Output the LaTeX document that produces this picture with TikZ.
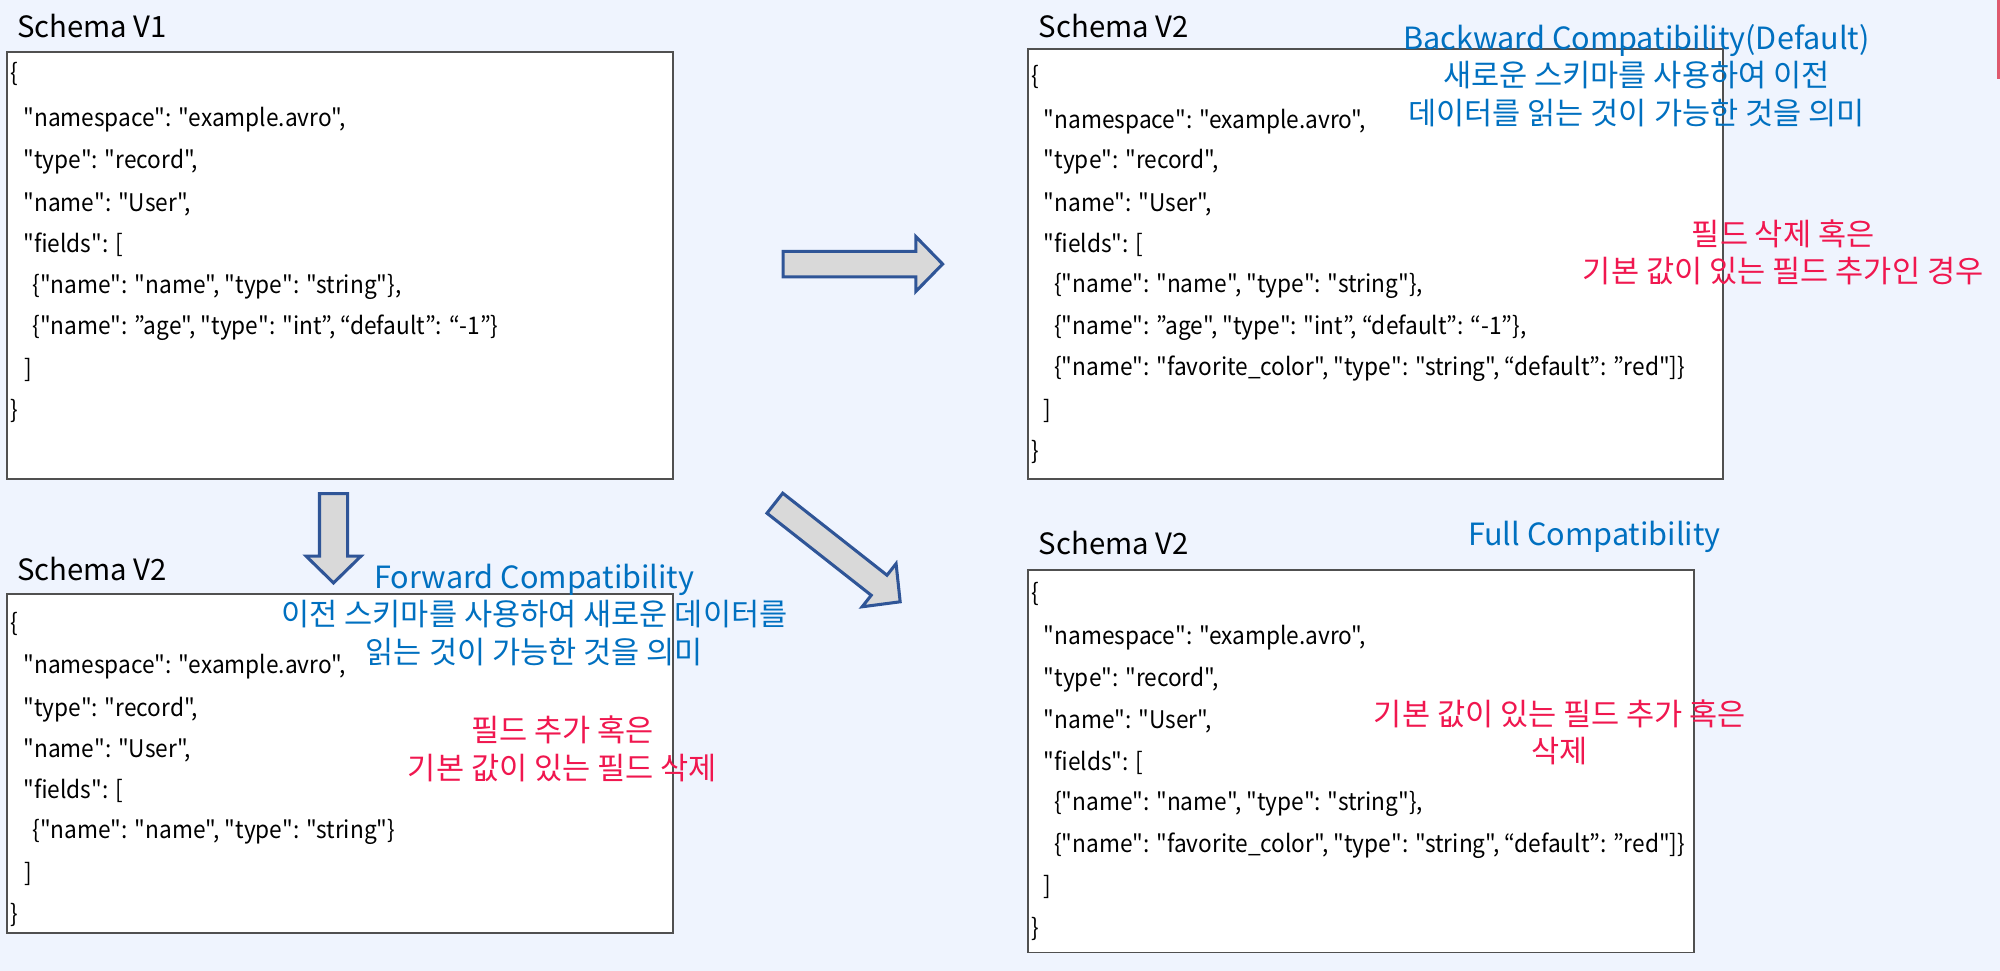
\documentclass[tikz,border=0pt]{standalone}
\usepackage{fontspec}
\setmainfont{Noto Sans CJK KR}[Ligatures=TeXOff]
\newfontfamily\codefont{Noto Sans CJK KR}[Ligatures=TeXOff,FakeStretch=0.935]
\definecolor{bgc}{HTML}{EFF4FE}
\definecolor{boxline}{HTML}{505050}
\definecolor{bluetxt}{HTML}{0070C0}
\definecolor{redtxt}{HTML}{F0174F}
\definecolor{arrline}{HTML}{2F5597}
\definecolor{arrfill}{HTML}{D9D9D9}
\definecolor{edgered}{HTML}{E05A6E}
\begin{document}
\begin{tikzpicture}[x=0.5pt,y=-0.5pt,
  schemabox/.style={draw=boxline,line width=0.75pt,fill=white,inner sep=0pt,anchor=north west},
  code/.style={anchor=west,inner sep=0pt,font=\codefont\fontsize{9.5}{11}\selectfont},
  ttl/.style={anchor=west,inner sep=0pt,font=\fontsize{11.5}{13}\selectfont},
  bluenote/.style={align=center,inner sep=0pt,text=bluetxt,font=\fontsize{12}{14.7}\selectfont},
  rednote/.style={align=center,inner sep=0pt,text=redtxt,font=\fontsize{12}{14.7}\selectfont},
  blockarrow/.style={draw=arrline,line width=1.2pt,fill=arrfill,line join=miter}]
\useasboundingbox (0,0) rectangle (1568,761);
\fill[bgc] (0,0) rectangle (1568,761);
\draw[edgered,line width=1pt] (1567,0) -- (1567,62);

% boxes
\node[schemabox,minimum width=261pt,minimum height=167.5pt] (v1) at (5,40) {};
\node[schemabox,minimum width=261pt,minimum height=133pt] (fw) at (5,465) {};
\node[schemabox,minimum width=272.5pt,minimum height=168.5pt] (bw) at (805,38) {};
\node[schemabox,minimum width=261pt,minimum height=150pt] (fu) at (805,446) {};

% titles
\node[ttl] (t1) at (13,20) {Schema V1};
\node[ttl] (t2) at (13,446) {Schema V2};
\node[ttl] (t3) at (814,20) {Schema V2};
\node[ttl] (t4) at (814,426) {Schema V2};

% V1 code
\node[code] (a1) at (8,58) {\{};
\node[code] (a2) at (18,94) {"namespace": "example.avro",};
\node[code] (a3) at (18,127) {"type": "record",};
\node[code] (a4) at (18,160) {"name": "User",};
\node[code] (a5) at (18,192) {"fields": [};
\node[code] (a6) at (25,225) {\{"name": "name", "type": "string"\},};
\node[code] (a7) at (25,257) {\{"name": ”age", "type": "int”, “default”: “-1”\}};
\node[code] (a8) at (19,290) {]};
\node[code] (a9) at (8,322) {\}};

% forward code
\node[code] (b1) at (8,489) {\{};
\node[code] (b2) at (18,523) {"namespace": "example.avro",};
\node[code] (b3) at (18,556) {"type": "record",};
\node[code] (b4) at (18,588) {"name": "User",};
\node[code] (b5) at (18,620) {"fields": [};
\node[code] (b6) at (25,652) {\{"name": "name", "type": "string"\}};
\node[code] (b7) at (19,685) {]};
\node[code] (b8) at (8,717) {\}};

% backward code
\node[code] (c1) at (808,60) {\{};
\node[code] (c2) at (818,95) {"namespace": "example.avro",};
\node[code] (c3) at (818,127) {"type": "record",};
\node[code] (c4) at (818,160) {"name": "User",};
\node[code] (c5) at (818,192) {"fields": [};
\node[code] (c6) at (826,224) {\{"name": "name", "type": "string"\},};
\node[code] (c7) at (826,257) {\{"name": ”age", "type": "int”, “default”: “-1”\},};
\node[code] (c8) at (826,289) {\{"name": "favorite\_color", "type": "string", “default”: ”red"]\}};
\node[code] (c9) at (818,322) {]};
\node[code] (c10) at (808,354) {\}};

% full code
\node[code] (d1) at (808,466) {\{};
\node[code] (d2) at (818,500) {"namespace": "example.avro",};
\node[code] (d3) at (818,533) {"type": "record",};
\node[code] (d4) at (818,566) {"name": "User",};
\node[code] (d5) at (818,598) {"fields": [};
\node[code] (d6) at (826,630) {\{"name": "name", "type": "string"\},};
\node[code] (d7) at (826,663) {\{"name": "favorite\_color", "type": "string", “default”: ”red"]\}};
\node[code] (d8) at (818,695) {]};
\node[code] (d9) at (808,728) {\}};

% notes
\node[bluenote] (nb) at (1283,59) {Backward Compatibility(Default)\\새로운 스키마를 사용하여 이전\\데이터를 읽는 것이 가능한 것을 의미};
\node[bluenote] (nf) at (419,482) {Forward Compatibility\\이전 스키마를 사용하여 새로운 데이터를\\읽는 것이 가능한 것을 의미};
\node[bluenote] (nu) at (1250,421) {Full Compatibility};
\node[rednote] (rb) at (1398,198) {필드 삭제 혹은\\기본 값이 있는 필드 추가인 경우};
\node[rednote] (rf) at (441,587) {필드 추가 혹은\\기본 값이 있는 필드 삭제};
\node[rednote] (ru) at (1223,574) {기본 값이 있는 필드 추가 혹은\\삭제};

% block arrows
\begin{scope}[shift={(261.5,387)},rotate=-90]
  \draw[blockarrow] (0,-11) -- (49,-11) -- (49,-21.5) -- (70,0) -- (49,21.5) -- (49,11) -- (0,11) -- cycle;
\end{scope}
\begin{scope}[shift={(614,207)}]
  \draw[blockarrow] (0,-10) -- (104,-10) -- (104,-21.5) -- (125,0) -- (104,21.5) -- (104,10) -- (0,10) -- cycle;
\end{scope}
\begin{scope}[shift={(607.5,394.5)},rotate=-38.2]
  \draw[blockarrow] (0,-10) -- (104,-10) -- (104,-21.5) -- (125,0) -- (104,21.5) -- (104,10) -- (0,10) -- cycle;
\end{scope}
\end{tikzpicture}
\end{document}
